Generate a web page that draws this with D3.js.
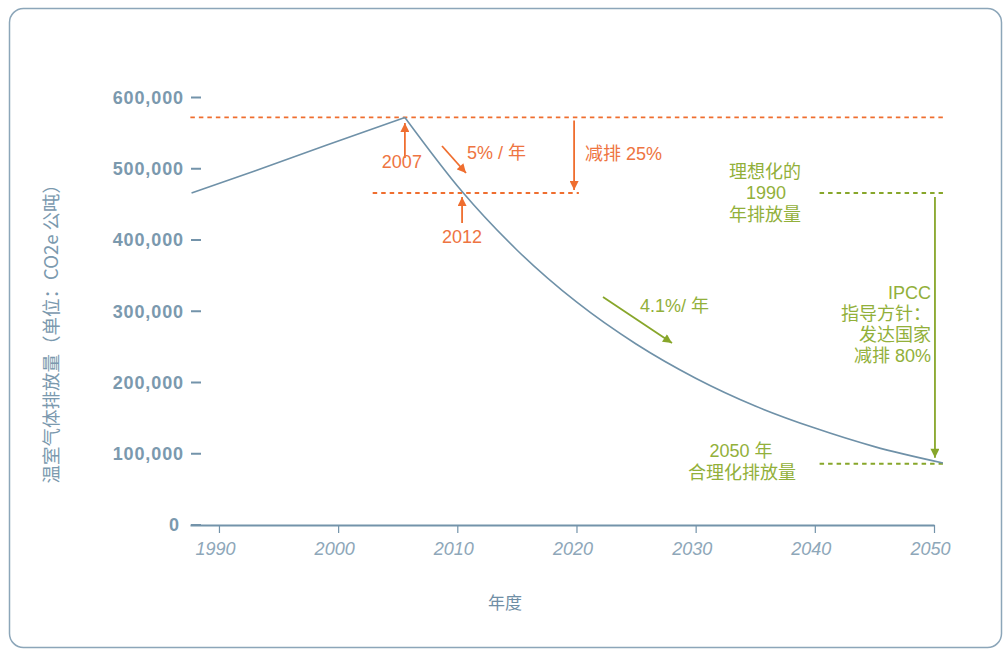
<!DOCTYPE html>
<html><head><meta charset="utf-8">
<script src="https://cdn.jsdelivr.net/npm/d3@7"></script>
<style>body{margin:0;background:#fff}</style>
</head><body><svg id="c" width="1006" height="649"></svg>
<script>
// ---- data ----
const years = [1987.7, 1993, 1999, 2005.6, 2010.4, 2015, 2020, 2025, 2030, 2035, 2040, 2045, 2050.75];
const emissions = [466000, 497000, 533000, 572000, 468000, 386000, 313000, 254000, 206000, 167000, 136000, 110000, 87000];
const peakIndex = 3;
const xTickValues = [1990, 2000, 2010, 2020, 2030, 2040, 2050];
const yTickValues = [0, 100000, 200000, 300000, 400000, 500000, 600000];
const idealized1990 = 466000;
const year2012 = 2010.4;
const target2050 = 86000;
const yAxisTitle = "温室气体排放量（单位：CO2e 公吨）";
const xAxisTitle = "年度";

// ---- setup ----
const LAT = "'Liberation Sans', Arial, 'Noto Sans CJK SC', sans-serif";
const ORANGE = "#ef6e2f", ORANGE_T = "#ee7441";
const GREEN = "#87a62a", GREEN_T = "#92b03a";
const AXIS = "#7393aa", LINE = "#6f91a8";

const svg = d3.select("#c");
const x = d3.scaleLinear().domain([1987.57, 2050]).range([190, 934]);
const y = d3.scaleLinear().domain([0, 600000]).range([525, 97.5]);

// border
svg.append("rect").attr("x", 9.5).attr("y", 8.5).attr("width", 992).attr("height", 639)
  .attr("rx", 14).attr("fill", "none").attr("stroke", "#8ca6b9").attr("stroke-width", 1.5);

// markers
const defs = svg.append("defs");
function marker(id, color) {
  defs.append("marker").attr("id", id).attr("viewBox", "0 0 10 10").attr("refX", 10).attr("refY", 5)
    .attr("markerWidth", 10).attr("markerHeight", 9).attr("markerUnits", "userSpaceOnUse")
    .attr("orient", "auto").append("path").attr("d", "M0,0L10,5L0,10Z").attr("fill", color);
}
marker("ao", ORANGE); marker("ag", GREEN);

// x axis
const xAxis = svg.append("g").attr("transform", `translate(0,${y(0)})`)
  .call(d3.axisBottom(x).tickValues(xTickValues).tickSize(8).tickSizeOuter(0).tickPadding(9).tickFormat(d3.format("d")));
xAxis.select(".domain").attr("stroke", AXIS).attr("stroke-width", 2);
xAxis.selectAll(".tick line").attr("stroke", AXIS).attr("stroke-width", 1.2);
xAxis.selectAll(".tick text").attr("font-family", LAT).attr("font-style", "italic")
  .attr("font-size", 18).attr("fill", "#8ea7b9").attr("dx", -4);

// y axis (labels with short dash)
const yt = svg.append("g").selectAll("g").data(yTickValues).join("g")
  .attr("transform", d => `translate(0,${y(d)})`);
yt.append("line").attr("x1", 191).attr("x2", 201).attr("stroke", AXIS).attr("stroke-width", 2);
yt.append("text").attr("x", d => d === 0 ? 180 : 184).attr("dy", "0.36em").attr("text-anchor", "end")
  .attr("font-family", LAT).attr("font-weight", "bold").attr("font-size", 18).attr("letter-spacing", 0.9)
  .attr("fill", "#7b99ae").text(d3.format(","));

// axis titles
svg.append("text").attr("transform", `translate(58,${(y(0) + y(600000)) / 2 + 18}) rotate(-90)`)
  .attr("text-anchor", "middle").attr("font-family", "'Noto Sans CJK SC', sans-serif").attr("font-size", 18.5)
  .attr("fill", "#7b99ae").text(yAxisTitle);
svg.append("text").attr("x", 505).attr("y", 609).attr("text-anchor", "middle")
  .attr("font-family", "'Noto Sans CJK SC', sans-serif").attr("font-size", 17).attr("fill", "#6f8ea5").text(xAxisTitle);

// dashed reference lines
const peakY = y(emissions[peakIndex]), peakX = x(years[peakIndex]);
function dash(x1, x2, yy, color) {
  svg.append("line").attr("x1", x1).attr("x2", x2).attr("y1", yy).attr("y2", yy)
    .attr("stroke", color).attr("stroke-width", 1.8).attr("stroke-dasharray", "4.5,4");
}
dash(x(1987.6), x(2050.75), peakY, ORANGE);
dash(x(2002.9), x(2020.2), y(idealized1990), ORANGE);
dash(x(2040.4), x(2050.75), y(idealized1990), GREEN);
dash(x(2040.4), x(2050.75), y(target2050), GREEN);

// series line
const pts = years.map((t, i) => [t, emissions[i]]);
const lineLin = d3.line().x(d => x(d[0])).y(d => y(d[1]));
const lineCurve = d3.line().x(d => x(d[0])).y(d => y(d[1])).curve(d3.curveMonotoneX);
svg.append("path").attr("d", lineLin(pts.slice(0, peakIndex + 1))).attr("fill", "none").attr("stroke", LINE).attr("stroke-width", 1.6);
svg.append("path").attr("d", lineCurve(pts.slice(peakIndex))).attr("fill", "none").attr("stroke", LINE).attr("stroke-width", 1.6);

// arrows
function arrow(x1, y1, x2, y2, color, m) {
  svg.append("line").attr("x1", x1).attr("y1", y1).attr("x2", x2).attr("y2", y2)
    .attr("stroke", color).attr("stroke-width", 1.8).attr("marker-end", `url(#${m})`);
}
function label(tx, ty, str, color, anchor) {
  return svg.append("text").attr("x", tx).attr("y", ty).attr("text-anchor", anchor || "start")
    .attr("font-family", LAT).attr("font-size", 18).attr("fill", color).text(str);
}
// orange
arrow(peakX, 158, peakX, 123, ORANGE, "ao");
label(peakX - 3, 168, "2007", ORANGE_T, "middle");
const x12 = x(year2012);
arrow(x12, 223, x12, 197, ORANGE, "ao");
label(x12, 243, "2012", ORANGE_T, "middle");
arrow(442, 146, 466, 173, ORANGE, "ao");
label(467, 159, "5% / 年", ORANGE_T);
arrow(x(2019.8), peakY + 3, x(2019.8), y(idealized1990) - 3, ORANGE, "ao");
label(585, 160, "减排 25%", ORANGE_T);

// green
arrow(603, 297, 672, 343, GREEN, "ag");
label(640, 312, "4.1%/ 年", GREEN_T);
const xg = x(2050.08);
arrow(xg, y(idealized1990) + 4, xg, y(target2050) - 6, GREEN, "ag");
label(765, 178, "理想化的", GREEN_T, "middle");
label(766, 199, "1990", GREEN_T, "middle");
label(765, 221, "年排放量", GREEN_T, "middle");
["IPCC", "指导方针：", "发达国家", "减排 80%"].forEach((s, i) =>
  label(931, 299 + i * 21, s, GREEN_T, "end"));
label(741, 457, "2050 年", GREEN_T, "middle");
label(742, 479, "合理化排放量", GREEN_T, "middle");
</script></body></html>
